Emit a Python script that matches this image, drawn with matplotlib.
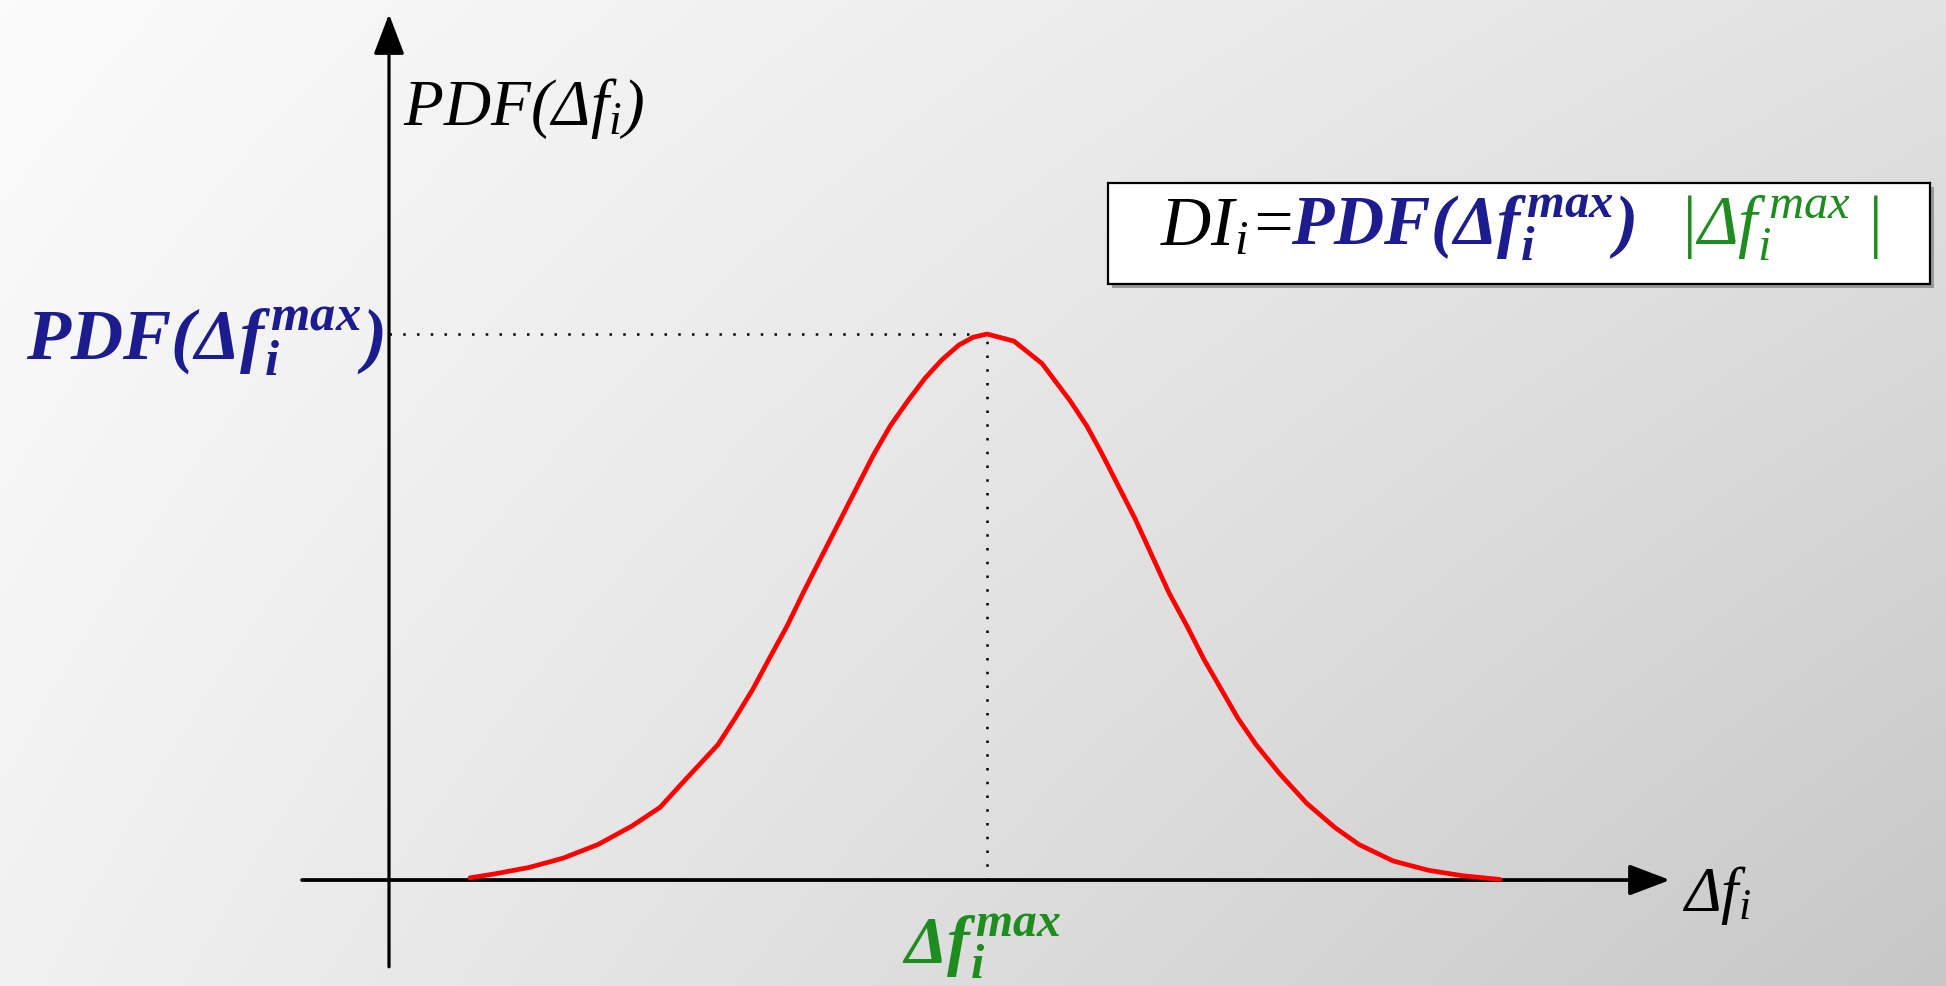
import numpy as np
import matplotlib
matplotlib.use("Agg")
import matplotlib.pyplot as plt
from matplotlib.patches import Rectangle

# ---------------- data ----------------
delta_f = [-5.17, -4.93, -4.58, -4.24, -3.89, -3.55, -3.27, -3.00, -2.69, -2.52,
           -2.34, -2.17, -2.00, -1.83, -1.65, -1.48, -1.31, -1.14, -0.97, -0.79,
           -0.62, -0.45, -0.28, -0.14, 0.00, 0.27, 0.55, 0.83, 1.00, 1.14,
           1.31, 1.48, 1.65, 1.82, 2.00, 2.17, 2.34, 2.51, 2.69, 2.93,
           3.20, 3.48, 3.72, 4.06, 4.41, 4.75, 5.13]
pdf_vals = [0.004, 0.011, 0.023, 0.040, 0.065, 0.099, 0.133, 0.187, 0.248, 0.296,
            0.350, 0.408, 0.465, 0.529, 0.594, 0.655, 0.716, 0.777, 0.831, 0.878,
            0.919, 0.953, 0.980, 0.994, 1.000, 0.987, 0.946, 0.878, 0.831, 0.784,
            0.723, 0.662, 0.594, 0.526, 0.465, 0.404, 0.350, 0.296, 0.248, 0.194,
            0.140, 0.096, 0.065, 0.035, 0.018, 0.008, 0.001]

# axis geometry (data units)
x_axis_range = (-6.85, 6.83)
y_axis_pos = -5.98
y_axis_range = (-0.159, 1.586)

# labels
y_label = r"$PDF(Δf_i)$"
x_label = r"$Δf_i$"
peak_y_label = r"$\mathbf{PDF(Δf_i^{\,max})}$"
peak_x_label = r"$\mathbf{Δf_i^{\,max}}$"
formula_parts = [r"$DI_i$=", r"$\mathbf{PDF(Δf_i^{\,max})}$", r"$|Δf_i^{\,max}\;|$"]

BLUE = "#1c1c8e"
GREEN = "#1e8c1e"

plt.rcParams["font.family"] = ["Liberation Serif", "DejaVu Serif"]
plt.rcParams["font.style"] = "italic"
plt.rcParams["mathtext.fontset"] = "custom"
plt.rcParams["mathtext.rm"] = "Liberation Serif:italic"
plt.rcParams["mathtext.it"] = "Liberation Serif:italic"
plt.rcParams["mathtext.bf"] = "Liberation Serif:italic:bold"

fig = plt.figure(figsize=(19.46, 9.87), dpi=100)

# background gradient
bg = fig.add_axes([0, 0, 1, 1])
bg.axis("off")
u = np.linspace(0, 1, 500)
v = np.linspace(0, 1, 260)
U, V = np.meshgrid(u, v)
val = 0.985 - 0.10 * U - 0.04 * V - 0.065 * U * V
bg.imshow(np.dstack([val, val, val]), extent=[0, 1, 0, 1], origin="upper",
          aspect="auto", interpolation="bilinear")
bg.set_xlim(0, 1)
bg.set_ylim(0, 1)

ax = fig.add_axes([0, 0, 1, 1])
ax.set_xlim(-9.87, 9.59)
ax.set_ylim(-0.1941, 1.6136)
ax.axis("off")

# axes with arrows
arrow_style = "-|>,head_length=2.5,head_width=0.95"
ax.annotate("", xy=(x_axis_range[1], 0), xytext=(x_axis_range[0], 0),
            arrowprops=dict(arrowstyle=arrow_style, color="black", lw=2.7,
                            mutation_scale=10, shrinkA=0, shrinkB=0), zorder=2)
ax.annotate("", xy=(y_axis_pos, y_axis_range[1]), xytext=(y_axis_pos, y_axis_range[0]),
            arrowprops=dict(arrowstyle=arrow_style, color="black", lw=2.3,
                            mutation_scale=10, shrinkA=0, shrinkB=0), zorder=2)

# peak guides
i_pk = int(np.argmax(pdf_vals))
px, py = delta_f[i_pk], pdf_vals[i_pk]
ax.plot([y_axis_pos, px], [py, py], color="black", lw=1.8, ls=(0, (1, 4.5)),
        dash_capstyle="butt", zorder=2)
ax.plot([px, px], [0, py], color="black", lw=1.8, ls=(0, (1, 4.5)),
        dash_capstyle="butt", zorder=2)

# curve
ax.plot(delta_f, pdf_vals, color="#ff0000", lw=3.4, solid_joinstyle="round",
        solid_capstyle="round", zorder=3)

# labels
ax.text(-5.84, 1.385, y_label, fontsize=47, color="black", ha="left", va="baseline")
ax.text(6.95, -0.055, x_label, fontsize=45, color="black", ha="left", va="baseline")
ax.text(-6.03, 0.955, peak_y_label, fontsize=52, color=BLUE, ha="right", va="baseline")
ax.text(px - 0.05, -0.150, peak_x_label, fontsize=49, color=GREEN, ha="center",
        va="baseline")

# formula box
shadow = Rectangle((1.25, 1.085), 8.22, 0.185, facecolor="#9a9a9a", edgecolor="none",
                   zorder=4)
ax.add_patch(shadow)
box = Rectangle((1.21, 1.092), 8.22, 0.185, facecolor="white", edgecolor="black",
                lw=1.6, zorder=5)
ax.add_patch(box)

fig.canvas.draw()
renderer = fig.canvas.get_renderer()
x_cur = 1.73
base_y = 1.165
colors = ["black", BLUE, GREEN]
gaps_px = [0, 42]
for k, (txt, col) in enumerate(zip(formula_parts, colors)):
    t = ax.text(x_cur, base_y, txt, fontsize=50, color=col, ha="left",
                va="baseline", zorder=6)
    bb = t.get_window_extent(renderer)
    right_data = ax.transData.inverted().transform((bb.x1, bb.y0))[0]
    if k < len(gaps_px):
        x_cur = right_data + gaps_px[k] / 100.0

fig.savefig("out.png", dpi=100)
